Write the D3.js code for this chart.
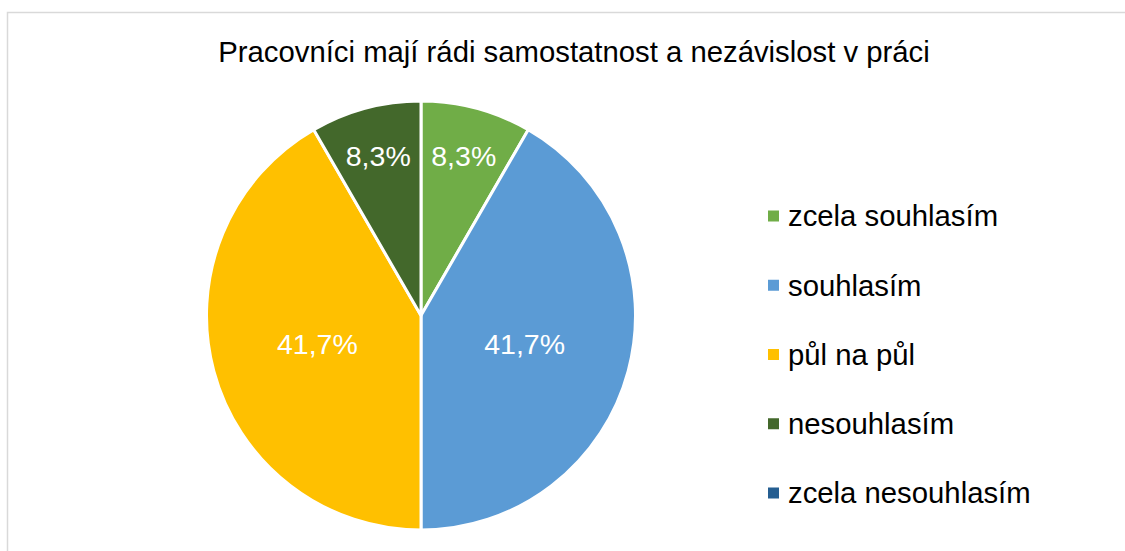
<!DOCTYPE html>
<html>
<head>
<meta charset="utf-8">
<script src="https://cdn.jsdelivr.net/npm/d3@7"></script>
<style>
  html, body { margin: 0; padding: 0; background: #fff; }
  svg { display: block; font-family: "Liberation Sans", Arial, sans-serif; }
</style>
</head>
<body>
<div id="chart"></div>
<script>
const title = 'Pracovníci mají rádi samostatnost a nezávislost v práci'
const categories = ['zcela souhlasím', 'souhlasím', 'půl na půl', 'nesouhlasím', 'zcela nesouhlasím']
const counts = [1, 5, 5, 1, 0]
const colors = ['#70ad47', '#5b9bd5', '#ffc000', '#43682b', '#255e91']

const width = 1125
const height = 551
const cx = 421
const cy = 315.5
const radius = 214.5

const svg = d3.select('#chart').append('svg')
    .attr('width', width)
    .attr('height', height)

// chart area frame (runs off the right and bottom edge)
svg.append('rect')
    .attr('x', 7.5)
    .attr('y', 12.5)
    .attr('width', width + 20)
    .attr('height', height + 20)
    .attr('fill', '#fff')
    .attr('stroke', '#d9d9d9')
    .attr('stroke-width', 1.5)

svg.append('text')
    .attr('x', 574)
    .attr('y', 62)
    .attr('text-anchor', 'middle')
    .attr('font-size', 29.3)
    .attr('fill', '#000')
    .text(title)

const data = categories.map((name, i) => ({name, value: counts[i]}))
const total = d3.sum(counts)
const color = d3.scaleOrdinal().domain(categories).range(colors)
const fmt = (v) => d3.format('.1%')(v).replace('.', ',')

const pie = d3.pie().sort(null).value((d) => d.value)
const arcs = pie(data).filter((d) => d.value > 0)
const arc = d3.arc().innerRadius(0).outerRadius(radius)

const g = svg.append('g').attr('transform', `translate(${cx},${cy})`)

g.selectAll('path.slice')
    .data(arcs)
    .join('path')
    .attr('class', 'slice')
    .attr('d', arc)
    .attr('fill', (d) => color(d.data.name))
    .attr('stroke', '#fff')
    .attr('stroke-width', 3)
    .attr('stroke-linejoin', 'round')

// small slices get their label pushed out toward the rim, like Excel's best fit
g.selectAll('text.label')
    .data(arcs)
    .join('text')
    .attr('class', 'label')
    .attr('transform', (d) => {
      const share = d.value / total
      const r = share < 0.2 ? radius * 0.77 : radius * 0.5
      const a = (d.startAngle + d.endAngle) / 2
      return `translate(${Math.sin(a) * r},${-Math.cos(a) * r})`
    })
    .attr('text-anchor', 'middle')
    .attr('dy', '0.36em')
    .attr('font-size', 28.5)
    .attr('fill', '#fff')
    .text((d) => fmt(d.value / total))

// legend
const legendY = d3.scalePoint().domain(categories).range([216, 493])
const legend = svg.append('g')
    .selectAll('g')
    .data(categories)
    .join('g')
    .attr('transform', (d) => `translate(768,${legendY(d)})`)

legend.append('rect')
    .attr('x', 0)
    .attr('y', -5.5)
    .attr('width', 11)
    .attr('height', 11)
    .attr('fill', (d) => color(d))

legend.append('text')
    .attr('x', 20)
    .attr('y', 0)
    .attr('dy', '0.35em')
    .attr('font-size', 29.3)
    .attr('fill', '#000')
    .text((d) => d)
</script>
</body>
</html>
